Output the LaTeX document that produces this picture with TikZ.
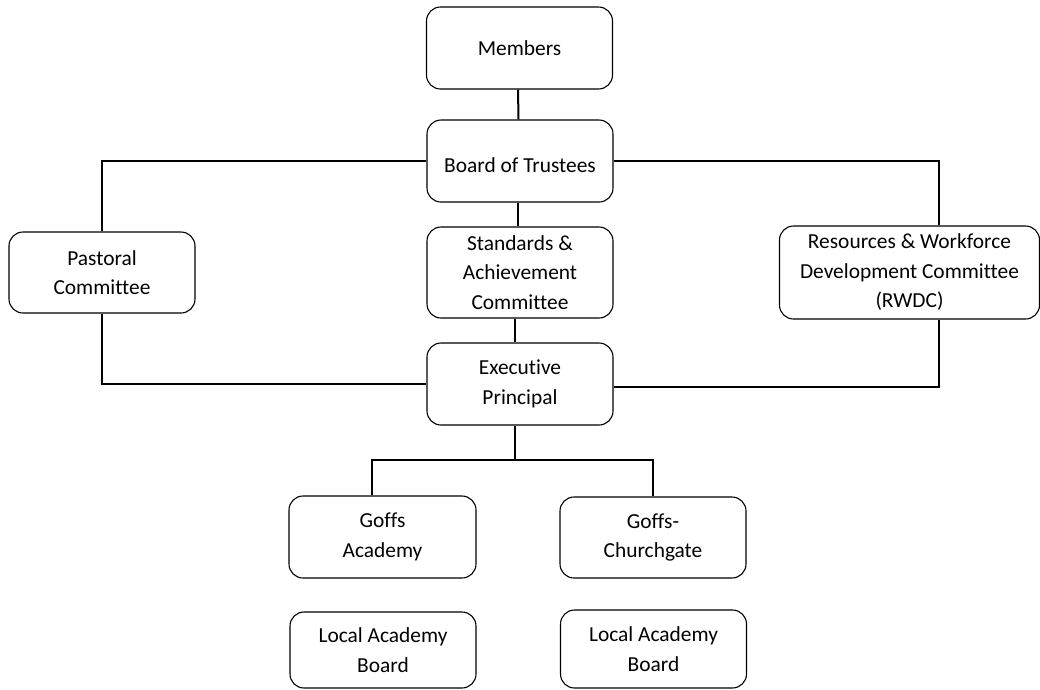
\documentclass[tikz,border=0pt]{standalone}
\usepackage{fontspec}
\setmainfont{Carlito}[Ligatures=NoCommon]
\usetikzlibrary{calc}
\tikzset{box/.style={draw, rounded corners=14pt, line width=1.1pt, align=center,
  minimum width=186pt, minimum height=82pt, inner sep=2pt,
  font=\fontsize{21.4}{29.5}\selectfont}}
\tikzset{link/.style={line width=2pt}}

\begin{document}
\begin{tikzpicture}[x=1pt, y=-1pt]
      \useasboundingbox (0,0) rectangle (1040,689);

      \node[box] (members) at (519.5, 48) {Members};
      \node[box] (board) at (520, 161) {\raisebox{-11pt}[0pt][0pt]{Board of Trustees}};
      \node[box, minimum height=91pt] (standards) at (520, 272.5) {Standards \&\\Achievement\\Committee};
      \node[box] (exec) at (520, 384) {Executive\\Principal};
      \node[box, minimum height=81pt] (pastoral) at (102, 272.5) {Pastoral\\Committee};
      \node[box, minimum width=260pt, minimum height=93pt] (rwdc) at (909.5, 272.5) {Resources \& Workforce\\Development Committee\\(RWDC)};

      \node[box, minimum width=187pt] (goffs) at (382.5, 537) {Goffs\\Academy};
      \node[box, minimum height=81pt] (church) at (653, 537.5) {Goffs-\\Churchgate};
      \node[box, minimum height=76pt] (lab1) at (383, 650) {Local Academy\\Board};
      \node[box, minimum height=78pt] (lab2) at (653.5, 649) {Local Academy\\Board};

      \draw[link] ([xshift=-1.5pt]members.south) -- ([xshift=-1.5pt]board.north);
      \draw[link] ([xshift=-2pt]board.south) -- ([xshift=-2pt]standards.north);
      \draw[link] ([xshift=-5pt]standards.south) -- ([xshift=-5pt]exec.north);
      \draw[link] (board.west) -| (pastoral.north);
      \draw[link] (board.east) -| ($(rwdc.north)+(29.5,0)$);
      \draw[link] (pastoral.south) |- (exec.west);
      \draw[link] ($(rwdc.south)+(29.5,0)$) |- ([yshift=-3pt]exec.east);

      \draw[link] ([xshift=-5pt]exec.south) -- ++(0,34) coordinate (split);
      \draw[link] ($(goffs.north)+(-10.5,0)$) |- (split) -| (church.north);
\end{tikzpicture}
\end{document}
